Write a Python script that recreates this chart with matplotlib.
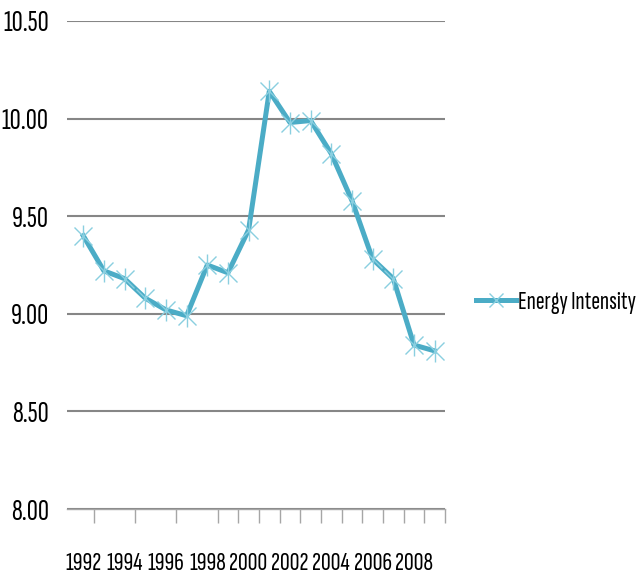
import matplotlib
matplotlib.use("Agg")
import matplotlib.pyplot as plt
from matplotlib.lines import Line2D

years = list(range(1992, 2010))
energy_intensity = [9.40, 9.22, 9.18, 9.08, 9.02, 8.99, 9.25, 9.21, 9.43, 10.14,
                    9.98, 9.99, 9.82, 9.58, 9.28, 9.18, 8.84, 8.81]
year_labels = [str(y) for y in years[::2]]
y_ticks = [8.0, 8.5, 9.0, 9.5, 10.0, 10.5]

FONT = ['Sofia Sans Extra Condensed', 'DejaVu Sans']
line_color = '#4BACC6'
marker_color = '#8ACFE0'
grid_color = '#868686'

fig = plt.figure(figsize=(6.43, 5.81), dpi=100)
ax = fig.add_axes([66.7 / 643, 1 - 509 / 581, (445 - 66.7) / 643, (509 - 21) / 581])

x = list(range(len(years)))
ax.plot(x, energy_intensity, color=line_color, lw=3.6, solid_joinstyle='round', zorder=3)
ax.plot(x, energy_intensity, ls='none', marker='x', ms=13, mew=1.0, mec=marker_color, zorder=4)
ax.plot(x, energy_intensity, ls='none', marker='|', ms=16, mew=1.0, mec=marker_color, zorder=4)

ax.set_xlim(-0.8, 17.5)
ax.set_ylim(8.0, 10.5)
ax.set_yticks(y_ticks)
ax.set_yticklabels([f"{v:.2f}" for v in y_ticks], family=FONT, fontsize=22)
ax.yaxis.grid(True, color=grid_color, lw=1.5)
ax.set_axisbelow(True)
ax.tick_params(axis='y', length=0, pad=13)

ax.set_xticks(x[::2])
ax.set_xticklabels(year_labels, family=FONT, fontsize=19.5)
ax.tick_params(axis='x', which='major', length=0, pad=31)
ax.set_xticks([0.5, 2.5, 4.5, 6.5, 7.5, 8.5, 9.5, 10.5, 11.5, 12.5, 13.5, 14.5, 15.5, 16.5, 17.5], minor=True)
ax.tick_params(axis='x', which='minor', length=10, width=1, color='#A6A6A6', direction='out')

for s in ['top', 'right', 'left']:
    ax.spines[s].set_visible(False)
ax.spines['bottom'].set_color('#A6A6A6')
ax.spines['bottom'].set_linewidth(1)

handle = Line2D([0], [0], color=line_color, lw=3.6, marker='x', ms=10, mew=1.0, mec=marker_color)
fig.legend([handle], ['Energy Intensity'], loc='center left', bbox_to_anchor=(476 / 643, 1 - 302 / 581),
           frameon=False, prop={'family': FONT, 'size': 19}, handlelength=1.5, handletextpad=0.1,
           borderaxespad=0, borderpad=0)

fig.savefig('out.png', dpi=100)
